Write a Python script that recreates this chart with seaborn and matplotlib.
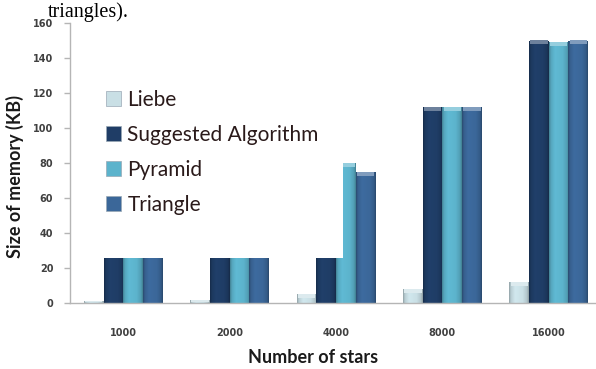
import numpy as np
import pandas as pd
import matplotlib
matplotlib.use("Agg")
import matplotlib.pyplot as plt
from matplotlib.patches import Rectangle, Patch
from matplotlib.colors import to_rgb
import seaborn as sns

# Memory usage per catalogue size
stars = ["1000", "2000", "4000", "8000", "16000"]
algorithms = ["Liebe", "Suggested Algorithm", "Pyramid", "Triangle"]
liebe = [1, 1.5, 5, 8, 12]
suggested = [30, 40, 60, 112, 150]
pyramid = [30, 40, 80, 112, 149]
triangle = [30, 40, 75, 112, 150]
colors = ["#c9dfe5", "#1f3d66", "#5cb3cc", "#3b6799"]

df = pd.DataFrame({
    "stars": stars * len(algorithms),
    "algorithm": np.repeat(algorithms, len(stars)),
    "memory": liebe + suggested + pyramid + triangle,
})

sns.set_style("white")
plt.rcParams["font.family"] = ["Lato", "DejaVu Sans"]

fig = plt.figure(figsize=(5.96, 3.69), dpi=100)
ax = fig.add_axes([70 / 596, 66 / 369, 532 / 596, 280 / 369])

sns.barplot(data=df, x="stars", y="memory", hue="algorithm",
            order=stars, hue_order=algorithms, palette=colors,
            saturation=1, width=0.74, legend=False, ax=ax,
            edgecolor="none", linewidth=0)

# cylinder-like shading on each bar
profile_t = [0.0, 0.08, 0.3, 0.7, 0.92, 1.0]
profile_f = [0.72, 0.92, 1.04, 1.0, 0.88, 0.7]
t = np.linspace(0, 1, 40)
shade = np.interp(t, profile_t, profile_f)
for bar in list(ax.patches):
    x0, w, h = bar.get_x(), bar.get_width(), bar.get_height()
    if h <= 0:
        continue
    rgb = np.array(to_rgb(bar.get_facecolor()))
    img = np.clip(rgb[None, None, :] * shade[None, :, None], 0, 1)
    im = ax.imshow(img, extent=(x0, x0 + w, 0, h), aspect="auto",
                   interpolation="bicubic", zorder=2)
    im.set_clip_path(bar)
    cap = np.clip(rgb + (1 - rgb) * 0.35, 0, 1)
    ch = min(2.2, h * 0.5)
    ax.add_patch(Rectangle((x0 + w * 0.06, h - ch), w * 0.88, ch,
                           facecolor=cap, edgecolor="none", zorder=3))

ax.set_xlim(-0.5, 4.5)
ax.set_ylim(0, 160)
ax.set_yticks(range(0, 161, 20))

spine_c = "#b5b5b5"
for s in ["top", "right"]:
    ax.spines[s].set_visible(False)
for s in ["left", "bottom"]:
    ax.spines[s].set_color(spine_c)
    ax.spines[s].set_linewidth(1)

ax.set_xticks(np.arange(-0.5, 5, 1), minor=True)
ax.tick_params(axis="x", which="major", length=0, pad=18,
               labelsize=7, labelcolor="#404040")
ax.tick_params(axis="x", which="minor", length=4, color=spine_c, width=1,
               direction="out")
ax.tick_params(axis="y", length=4, color=spine_c, width=1, pad=8,
               labelsize=7, labelcolor="#404040", left=True)
for lab in ax.get_xticklabels() + ax.get_yticklabels():
    lab.set_fontweight("bold")
    lab.set_family("DejaVu Sans")

ax.set_xlabel("Number of stars", fontsize=13, fontweight="bold", color="#1a1a1a")
ax.xaxis.set_label_coords((313 - 70) / 532, -46 / 280)
ax.set_ylabel("Size of memory (KB)", fontsize=13, fontweight="bold", color="#1a1a1a")
ax.yaxis.set_label_coords(-46 / 532, (303 - 176) / 280)

# opaque legend panel laid over the plot area
ax.add_patch(Rectangle((100 / 596, 1 - 258 / 369), 243 / 596, 188 / 369,
                       transform=fig.transFigure, facecolor="white",
                       edgecolor="none", zorder=5, clip_on=False))
handles = [Patch(facecolor=c, edgecolor="#9aa9b5", linewidth=0.5) for c in colors]
leg = ax.legend(handles, algorithms, loc="upper left",
                bbox_to_anchor=(91 / 596, 1 - 75 / 369),
                bbox_transform=fig.transFigure, frameon=False,
                fontsize=15, handlelength=0.75, handleheight=0.75,
                handletextpad=0.3, labelspacing=0.72, borderpad=0.2)
leg.set_zorder(6)
for txt in leg.get_texts():
    txt.set_color("#2a1a1a")

fig.text(48 / 596, 1 - 17 / 369, "triangles).", fontsize=14.5,
         family="Liberation Serif", color="black", va="baseline")

fig.savefig("out.png", dpi=100)
